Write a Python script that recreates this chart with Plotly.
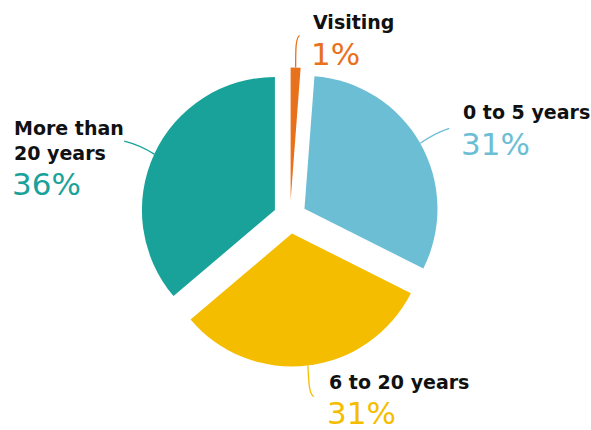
import math
import plotly.graph_objects as go

# ---- data ----
categories = ["Visiting", "0 to 5 years", "6 to 20 years", "More than 20 years"]
label_text = ["Visiting", "0 to 5 years", "6 to 20 years", "More than<br>20 years"]
values = [1.2, 31.2, 31.4, 36.2]
colors = ["#E8711C", "#6CBED4", "#F5BD00", "#18A29A"]

# ---- layout geometry (pixels) ----
W, H = 591, 430
CX, CY = 290, 217
R = 133
PULL = 0.125

box = 2 * R * (1 + PULL)
dom_x = [(CX - box / 2) / W, (CX + box / 2) / W]
dom_y = [1 - (CY + box / 2) / H, 1 - (CY - box / 2) / H]


def px(x, y):
    return x / W, 1 - y / H


fig = go.Figure(go.Pie(
    labels=categories,
    values=values,
    sort=False,
    direction="clockwise",
    rotation=0,
    pull=[PULL] * len(values),
    marker=dict(colors=colors, line=dict(width=0)),
    textinfo="none",
    textposition="none",
    hoverinfo="label+percent",
    showlegend=False,
    domain=dict(x=dom_x, y=dom_y),
))

# anchor points on each slice's outer arc at its mid angle (from data)
total = sum(values)
cum = 0
anchors = []
pcts = []
for v in values:
    mid = (cum + v / 2) / total * 2 * math.pi
    cum += v
    ox = CX + PULL * R * math.sin(mid)
    oy = CY - PULL * R * math.cos(mid)
    anchors.append((ox + R * math.sin(mid), oy - R * math.cos(mid)))
    pcts.append(f"{round(v / total * 100)}%")

# label placement (pixels): left x, name center y, percent center y
label_pos = [(311, 22, 54), (461, 112, 144), (327, 382, 413), (12, 140, 184)]

annotations = []
for i, (lx, ny, py) in enumerate(label_pos):
    x0, y0 = px(lx, ny)
    annotations.append(dict(
        x=x0, y=y0, xref="paper", yref="paper", xanchor="left", yanchor="middle",
        text=label_text[i], showarrow=False, align="left",
        font=dict(family="DejaVu Sans", size=19, color="#111111", weight="bold"),
    ))
    x1, y1 = px(lx, py)
    annotations.append(dict(
        x=x1 - 0.003, y=y1, xref="paper", yref="paper", xanchor="left", yanchor="middle",
        text=pcts[i], showarrow=False,
        font=dict(family="DejaVu Sans", size=31, color=colors[i]),
    ))


def path_px(cmds):
    out = []
    for c in cmds:
        if isinstance(c, str):
            out.append(c)
        else:
            x, y = px(*c)
            out.append(f"{x:.5f},{y:.5f}")
    return " ".join(out)


(ax0, ay0), (ax1, ay1), (ax2, ay2), (ax3, ay3) = anchors
leader_paths = [
    ["M", (ax0, ay0), "C", (ax0, ay0 - 18), (ax0, ay0 - 30), (ax0 + 4, ay0 - 32)],
    ["M", (ax1, ay1), "Q", (ax1 + 14, ay1 - 10), (ax1 + 29, ay1 - 15)],
    ["M", (ax2, ay2), "C", (ax2 + 1, ay2 + 15), (ax2 + 1, ay2 + 29), (ax2 + 6, ay2 + 31)],
    ["M", (ax3, ay3), "Q", (ax3 - 14, ay3 - 9), (ax3 - 30, ay3 - 13)],
]
shapes = []
for i, p in enumerate(leader_paths):
    shapes.append(dict(type="path", xref="paper", yref="paper", path=path_px(p),
                       line=dict(color=colors[i], width=1.3)))

fig.update_layout(
    width=W, height=H,
    margin=dict(l=0, r=0, t=0, b=0),
    paper_bgcolor="white", plot_bgcolor="white",
    annotations=annotations, shapes=shapes,
)

fig.write_html(
    "out.html",
    config={"displayModeBar": False},
    post_script="document.body.style.margin='0';document.body.style.overflow='hidden';",
)
